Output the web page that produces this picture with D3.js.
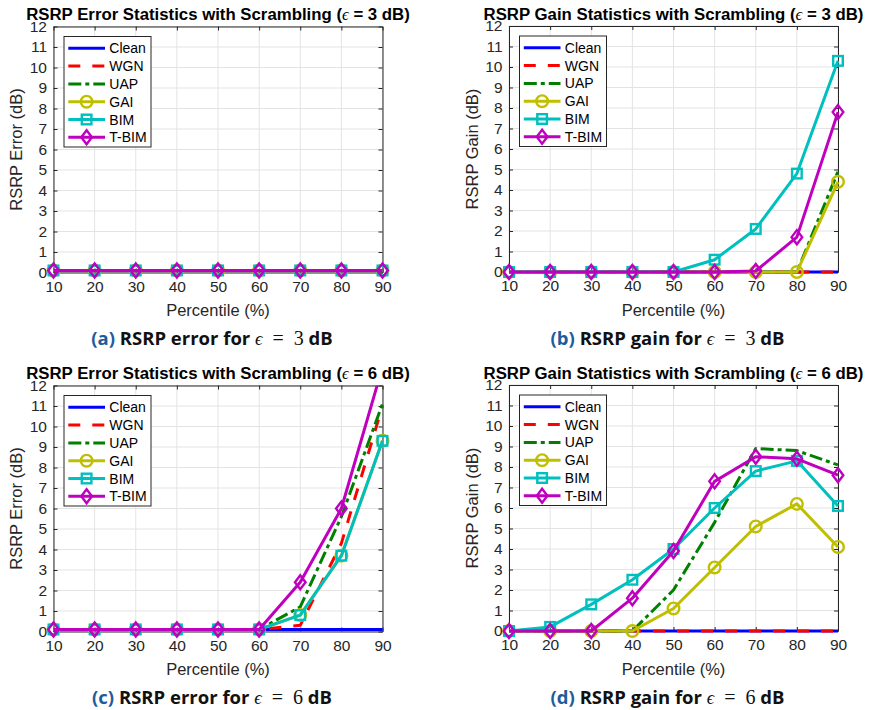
<!DOCTYPE html>
<html>
<head>
<meta charset="utf-8">
<script src="https://cdn.jsdelivr.net/npm/d3@7"></script>
<style>
  body { margin: 0; background: #fff; }
  text { white-space: pre; }
</style>
</head>
<body>
<div id="chart"></div>
<script>
// x axis: percentiles
const percentiles = [10, 20, 30, 40, 50, 60, 70, 80, 90];
const yTicks = [0, 1, 2, 3, 4, 5, 6, 7, 8, 9, 10, 11, 12];
const seriesNames = ['Clean', 'WGN', 'UAP', 'GAI', 'BIM', 'T-BIM'];

// (a) RSRP error, eps = 3 dB
const errEps3Clean = [0.1, 0.1, 0.1, 0.1, 0.1, 0.1, 0.1, 0.1, 0.1];
const errEps3WGN   = [0.1, 0.1, 0.1, 0.1, 0.1, 0.1, 0.1, 0.1, 0.1];
const errEps3UAP   = [0.1, 0.1, 0.1, 0.1, 0.1, 0.1, 0.1, 0.1, 0.1];
const errEps3GAI   = [0.1, 0.1, 0.1, 0.1, 0.1, 0.1, 0.1, 0.1, 0.1];
const errEps3BIM   = [0.1, 0.1, 0.1, 0.1, 0.1, 0.1, 0.1, 0.1, 0.1];
const errEps3TBIM  = [0.1, 0.1, 0.1, 0.1, 0.1, 0.1, 0.1, 0.1, 0.1];

// (b) RSRP gain, eps = 3 dB
const gainEps3Clean = [0, 0, 0, 0, 0, 0, 0, 0, 0];
const gainEps3WGN   = [0, 0, 0, 0, 0, 0, 0, 0, 0];
const gainEps3UAP   = [0, 0, 0, 0, 0, 0, 0, 0, 4.9];
const gainEps3GAI   = [0, 0, 0, 0, 0, 0, 0, 0, 4.4];
const gainEps3BIM   = [0, 0, 0, 0, 0, 0.6, 2.1, 4.8, 10.3];
const gainEps3TBIM  = [0, 0, 0, 0, 0, 0, 0.05, 1.7, 7.8];

// (c) RSRP error, eps = 6 dB
const errEps6Clean = [0.1, 0.1, 0.1, 0.1, 0.1, 0.1, 0.1, 0.1, 0.1];
const errEps6WGN   = [0.1, 0.1, 0.1, 0.1, 0.1, 0.1, 0.3, 4.3, 11.0];
const errEps6UAP   = [0.1, 0.1, 0.1, 0.1, 0.1, 0.1, 1.2, 5.6, 11.1];
const errEps6GAI   = [0.1, 0.1, 0.1, 0.1, 0.1, 0.1, 0.8, 3.7, 9.3];
const errEps6BIM   = [0.1, 0.1, 0.1, 0.1, 0.1, 0.1, 0.8, 3.7, 9.3];
const errEps6TBIM  = [0.1, 0.1, 0.1, 0.1, 0.1, 0.1, 2.4, 6.0, 12.9];

// (d) RSRP gain, eps = 6 dB
const gainEps6Clean = [0, 0, 0, 0, 0, 0, 0, 0, 0];
const gainEps6WGN   = [0, 0, 0, 0, 0, 0, 0, 0, 0];
const gainEps6UAP   = [0, 0, 0, 0, 2.0, 5.3, 8.9, 8.8, 8.1];
const gainEps6GAI   = [0, 0, 0, 0, 1.1, 3.1, 5.1, 6.2, 4.1];
const gainEps6BIM   = [0, 0.2, 1.3, 2.5, 4.0, 6.0, 7.8, 8.3, 6.1];
const gainEps6TBIM  = [0, 0, 0, 1.6, 3.9, 7.3, 8.5, 8.4, 7.6];

// line styles (matlab defaults)
const styles = [
  { color: '#0000ff', dash: null, marker: null },
  { color: '#ff0000', dash: '12,12', marker: null },
  { color: '#008000', dash: '13,4,4,4', marker: null },
  { color: '#bfbf00', dash: null, marker: 'circle' },
  { color: '#00bfbf', dash: null, marker: 'square' },
  { color: '#bf00bf', dash: null, marker: 'diamond' }
];

const panels = [
  { left: 53.5, top: 26.5, kind: 'Error', eps: 3, letter: 'a',
    series: [errEps3Clean, errEps3WGN, errEps3UAP, errEps3GAI, errEps3BIM, errEps3TBIM] },
  { left: 509, top: 26, kind: 'Gain', eps: 3, letter: 'b',
    series: [gainEps3Clean, gainEps3WGN, gainEps3UAP, gainEps3GAI, gainEps3BIM, gainEps3TBIM] },
  { left: 53.5, top: 385.5, kind: 'Error', eps: 6, letter: 'c',
    series: [errEps6Clean, errEps6WGN, errEps6UAP, errEps6GAI, errEps6BIM, errEps6TBIM] },
  { left: 509, top: 385, kind: 'Gain', eps: 6, letter: 'd',
    series: [gainEps6Clean, gainEps6WGN, gainEps6UAP, gainEps6GAI, gainEps6BIM, gainEps6TBIM] }
];

const W = 869, H = 710;
const pw = 329, ph = 246;
const axisColor = '#262626';
const sans = '"Liberation Sans", Arial, Helvetica, sans-serif';
const serif = '"Liberation Serif", "DejaVu Serif", serif';

const svg = d3.select('#chart').append('svg')
  .attr('width', W).attr('height', H)
  .style('background', '#fff');

// marker drawing helper
function drawMarker(sel, type, color) {
  if (type === 'circle') {
    sel.append('circle').attr('r', 5.8);
  } else if (type === 'square') {
    sel.append('rect').attr('x', -4.8).attr('y', -4.8).attr('width', 9.6).attr('height', 9.6);
  } else if (type === 'diamond') {
    sel.append('path').attr('d', 'M0,-7L5.3,0L0,7L-5.3,0Z');
  }
  sel.selectAll('circle,rect,path')
    .attr('fill', 'none')
    .attr('stroke', color)
    .attr('stroke-width', 2.4);
}

panels.forEach((p, pi) => {
  const g = svg.append('g').attr('transform', `translate(${p.left},${p.top})`);

  const x = d3.scaleLinear().domain([10, 90]).range([0, pw]);
  const y = d3.scaleLinear().domain([0, 12]).range([ph, 0]);

  // grid
  g.append('g').selectAll('line.gx').data(percentiles).enter().append('line')
    .attr('x1', d => x(d)).attr('x2', d => x(d)).attr('y1', 0).attr('y2', ph)
    .attr('stroke', '#e3e3e3').attr('stroke-width', 1);
  g.append('g').selectAll('line.gy').data(yTicks).enter().append('line')
    .attr('x1', 0).attr('x2', pw).attr('y1', d => y(d)).attr('y2', d => y(d))
    .attr('stroke', '#e3e3e3').attr('stroke-width', 1);

  // axes, ticks inward on all four sides
  const axB = d3.axisBottom(x).tickValues(percentiles).tickSizeInner(-4).tickSizeOuter(0).tickPadding(9);
  const axL = d3.axisLeft(y).tickValues(yTicks).tickSizeInner(-4).tickSizeOuter(0).tickPadding(6.5);
  const axT = d3.axisTop(x).tickValues(percentiles).tickSizeInner(-4).tickSizeOuter(0).tickFormat('');
  const axR = d3.axisRight(y).tickValues(yTicks).tickSizeInner(-4).tickSizeOuter(0).tickFormat('');

  const gb = g.append('g').attr('transform', `translate(0,${ph})`).call(axB);
  const gl = g.append('g').call(axL);
  const gt = g.append('g').call(axT);
  const gr = g.append('g').attr('transform', `translate(${pw},0)`).call(axR);
  [gb, gl, gt, gr].forEach(a => {
    a.selectAll('path').attr('stroke', axisColor).attr('stroke-width', 1);
    a.selectAll('line').attr('stroke', axisColor).attr('stroke-width', 1);
    a.selectAll('text').attr('fill', axisColor).style('font-family', sans).style('font-size', '15.5px');
  });
  gb.selectAll('text').attr('dy', '0.66em');

  // clip for lines
  const clipId = 'clip' + pi;
  g.append('clipPath').attr('id', clipId).append('rect')
    .attr('x', -20).attr('y', 0).attr('width', pw + 40).attr('height', ph + 20);

  const line = d3.line().x((d, i) => x(percentiles[i])).y(d => y(d));

  p.series.forEach((vals, si) => {
    const st = styles[si];
    const sg = g.append('g');
    sg.append('path')
      .attr('clip-path', `url(#${clipId})`)
      .attr('d', line(vals))
      .attr('fill', 'none')
      .attr('stroke', st.color)
      .attr('stroke-width', 3)
      .attr('stroke-dasharray', st.dash)
      .attr('stroke-linejoin', 'round');
    if (st.marker) {
      vals.forEach((v, i) => {
        if (v < 0 || v > 12) return;
        const m = sg.append('g').attr('transform', `translate(${x(percentiles[i])},${y(v)})`);
        drawMarker(m, st.marker, st.color);
      });
    }
  });

  // legend
  const lg = g.append('g').attr('transform', 'translate(10.5,10)');
  lg.append('rect').attr('width', 87).attr('height', 110.5)
    .attr('fill', '#fff').attr('stroke', axisColor).attr('stroke-width', 1);
  seriesNames.forEach((name, si) => {
    const st = styles[si];
    const cy = 11.8 + si * 17.8;
    lg.append('line').attr('x1', 4.3).attr('x2', 41).attr('y1', cy).attr('y2', cy)
      .attr('stroke', st.color).attr('stroke-width', 3)
      .attr('stroke-dasharray', st.dash);
    if (st.marker) {
      const m = lg.append('g').attr('transform', `translate(22.6,${cy})`);
      drawMarker(m, st.marker, st.color);
    }
    lg.append('text').attr('x', 45.3).attr('y', cy + 5)
      .attr('fill', '#000').style('font-family', sans).style('font-size', '14px')
      .text(name);
  });

  // title
  const t = g.append('text').attr('x', pw / 2).attr('y', -6.5)
    .attr('text-anchor', 'middle').attr('fill', '#000')
    .style('font-family', sans).style('font-size', '16.8px').style('font-weight', 'bold');
  t.append('tspan').text(`RSRP ${p.kind} Statistics with Scrambling (`);
  t.append('tspan').style('font-family', serif).style('font-style', 'italic').style('font-weight', 'normal').text('ϵ');
  t.append('tspan').text(` = ${p.eps} dB)`);

  // axis labels
  g.append('text').attr('x', pw / 2).attr('y', ph + 43.5)
    .attr('text-anchor', 'middle').attr('fill', axisColor)
    .style('font-family', sans).style('font-size', '16.5px')
    .text('Percentile (%)');
  g.append('text')
    .attr('transform', `translate(-31.5,${ph / 2}) rotate(-90)`)
    .attr('text-anchor', 'middle').attr('fill', axisColor)
    .style('font-family', sans).style('font-size', '16.5px')
    .text(`RSRP ${p.kind} (dB)`);

  // sub caption
  const c = g.append('text').attr('x', pw / 2 - 6).attr('y', ph + 72.5)
    .attr('text-anchor', 'middle').attr('fill', '#111')
    .style('font-family', '"Open Sans", sans-serif').style('font-size', '18.5px').style('font-weight', 'bold');
  c.append('tspan').attr('fill', '#1e5b9c').text(`(${p.letter})`);
  c.append('tspan').text(` RSRP ${p.kind.toLowerCase()} for `);
  c.append('tspan').style('font-family', serif).style('font-style', 'italic').style('font-weight', 'normal').text('ϵ');
  c.append('tspan').style('font-family', serif).style('font-weight', 'normal').style('font-size', '20px').text(`\u2002=\u2002${p.eps}`);
  c.append('tspan').text(' dB');
});
</script>
</body>
</html>
